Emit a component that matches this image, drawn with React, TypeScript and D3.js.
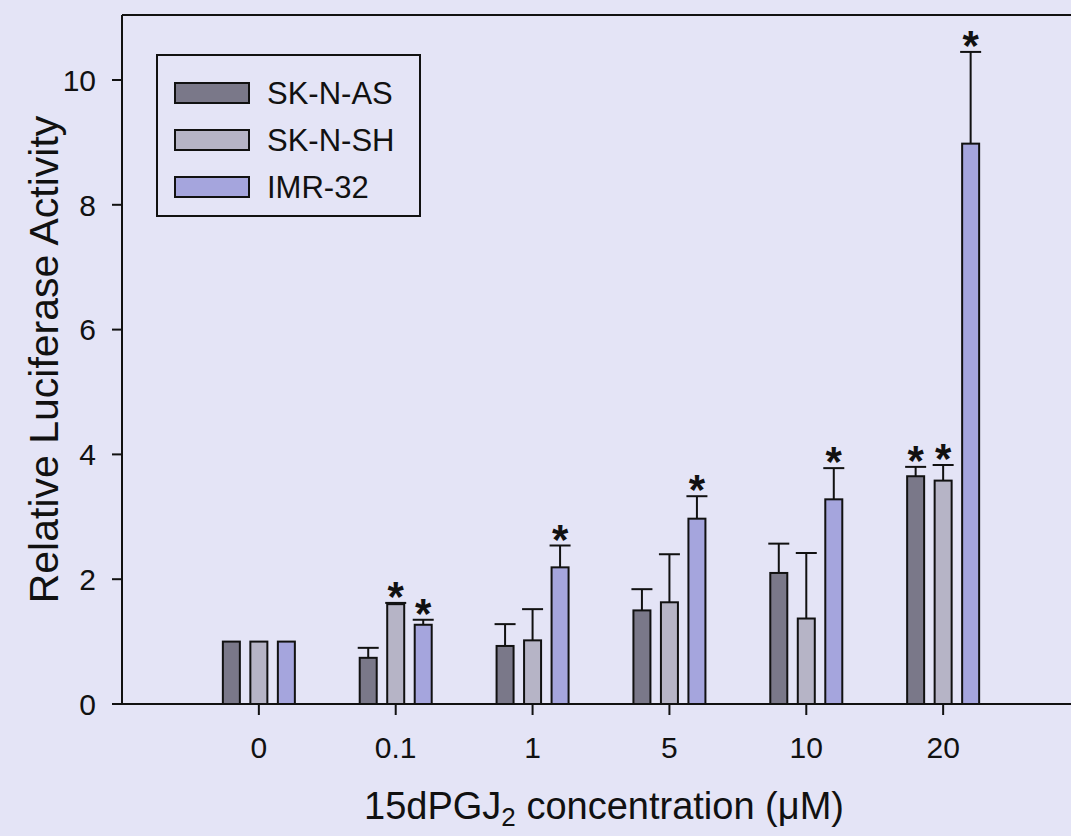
import React, { useEffect, useRef } from 'react'
import * as d3 from 'd3'

// concentrations of 15dPGJ2 (uM)
const categories = ['0', '0.1', '1', '5', '10', '20']
const seriesNames = ['SK-N-AS', 'SK-N-SH', 'IMR-32']

const skNAS = [1, 0.74, 0.93, 1.5, 2.1, 3.65]
const skNASErr = [0, 0.16, 0.35, 0.34, 0.47, 0.15]
const skNSH = [1, 1.6, 1.02, 1.63, 1.37, 3.58]
const skNSHErr = [0, 0.02, 0.5, 0.77, 1.05, 0.25]
const imr32 = [1, 1.27, 2.19, 2.97, 3.28, 8.98]
const imr32Err = [0, 0.08, 0.35, 0.36, 0.5, 1.47]

// significance markers (per series, per category)
const skNASSig = [false, false, false, false, false, true]
const skNSHSig = [false, true, false, false, false, true]
const imr32Sig = [false, true, true, true, true, true]

const yTicks = [0, 2, 4, 6, 8, 10]

const colors = ['#7a7889', '#b6b4c6', '#a5a5dd']
const bg = '#e4e4f6'
const font = '"Liberation Sans", Arial, Helvetica, sans-serif'

const W = 1071
const H = 836

export default function App() {
    const ref = useRef<SVGSVGElement>(null)

    useEffect(() => {
        const svg = d3.select(ref.current)
        svg.selectAll('*').remove()

        const left = 122, top = 15, bottom = 704, right = W

        svg.append('rect').attr('width', W).attr('height', H).attr('fill', bg)

        const y = d3.scaleLinear().domain([0, 10]).range([bottom, 80])
        const x = d3.scalePoint().domain(categories).range([left, 1080]).padding(1)
        const xSub = d3.scaleBand().domain(seriesNames).range([-41.25, 41.25])
        const barW = 17
        const capW = 21

        const values = [skNAS, skNSH, imr32]
        const errs = [skNASErr, skNSHErr, imr32Err]
        const sigs = [skNASSig, skNSHSig, imr32Sig]

        const rows = seriesNames.flatMap((s, si) => categories.map((c, ci) => ({
            s, si, c, v: values[si][ci], e: errs[si][ci], sig: sigs[si][ci]
        })))
        const cx = (d: any) => (x(d.c) as number) + (xSub(d.s) as number) + xSub.bandwidth() / 2

        // frame
        svg.append('line').attr('x1', left).attr('x2', right).attr('y1', top).attr('y2', top)
            .attr('stroke', '#111').attr('stroke-width', 2)
        svg.append('line').attr('x1', left).attr('x2', left).attr('y1', top).attr('y2', bottom)
            .attr('stroke', '#111').attr('stroke-width', 2)

        // error bars (up only)
        const eb = svg.append('g').attr('stroke', '#111').attr('stroke-width', 2)
        rows.filter(d => d.e > 0).forEach(d => {
            eb.append('line').attr('x1', cx(d)).attr('x2', cx(d)).attr('y1', y(d.v)).attr('y2', y(d.v + d.e))
            eb.append('line').attr('x1', cx(d) - capW / 2).attr('x2', cx(d) + capW / 2)
                .attr('y1', y(d.v + d.e)).attr('y2', y(d.v + d.e))
        })

        // bars
        svg.append('g').selectAll('rect').data(rows).join('rect')
            .attr('x', d => cx(d) - barW / 2)
            .attr('y', d => y(d.v))
            .attr('width', barW)
            .attr('height', d => y(0) - y(d.v))
            .attr('fill', d => colors[d.si])
            .attr('stroke', '#111')
            .attr('stroke-width', 2)

        // stars
        svg.append('g').selectAll('text').data(rows.filter(d => d.sig)).join('text')
            .attr('x', d => cx(d))
            .attr('y', d => y(d.v + d.e) + 8)
            .attr('text-anchor', 'middle')
            .attr('font-family', font)
            .attr('font-weight', 'bold')
            .attr('font-size', 42)
            .attr('fill', '#111')
            .text('*')

        // x axis
        svg.append('line').attr('x1', left).attr('x2', right).attr('y1', bottom).attr('y2', bottom)
            .attr('stroke', '#111').attr('stroke-width', 2)
        const xt = svg.append('g')
        categories.forEach(c => {
            xt.append('line').attr('x1', x(c)!).attr('x2', x(c)!).attr('y1', bottom).attr('y2', bottom + 11)
                .attr('stroke', '#111').attr('stroke-width', 2)
            xt.append('text').attr('x', x(c)!).attr('y', 758).attr('text-anchor', 'middle')
                .attr('font-family', font).attr('font-size', 30).attr('fill', '#111').text(c)
        })

        // y axis
        const yt = svg.append('g')
        yTicks.forEach(t => {
            yt.append('line').attr('x1', left - 10).attr('x2', left).attr('y1', y(t)).attr('y2', y(t))
                .attr('stroke', '#111').attr('stroke-width', 2)
            yt.append('text').attr('x', left - 26).attr('y', y(t)).attr('dy', '0.36em').attr('text-anchor', 'end')
                .attr('font-family', font).attr('font-size', 30).attr('fill', '#111').text(t)
        })

        // axis titles
        svg.append('text')
            .attr('transform', `translate(58,${(top + bottom) / 2}) rotate(-90)`)
            .attr('text-anchor', 'middle')
            .attr('font-family', font).attr('font-size', 41).attr('fill', '#111')
            .text('Relative Luciferase Activity')

        const xt2 = svg.append('text')
            .attr('x', 604).attr('y', 819)
            .attr('text-anchor', 'middle')
            .attr('font-family', font).attr('font-size', 38).attr('fill', '#111')
        xt2.append('tspan').text('15dPGJ')
        xt2.append('tspan').attr('font-size', 26).attr('dy', 7).text('2')
        xt2.append('tspan').attr('dy', -7).text(' concentration (\u03bcM)')

        // legend
        const lg = svg.append('g')
        lg.append('rect').attr('x', 157).attr('y', 55).attr('width', 263).attr('height', 161)
            .attr('fill', bg).attr('stroke', '#111').attr('stroke-width', 2)
        seriesNames.forEach((s, i) => {
            const ly = 83 + i * 47
            lg.append('rect').attr('x', 175).attr('y', ly).attr('width', 74).attr('height', 20)
                .attr('fill', colors[i]).attr('stroke', '#111').attr('stroke-width', 2)
            lg.append('text').attr('x', 267).attr('y', ly + 10).attr('dy', '0.36em')
                .attr('font-family', font).attr('font-size', 31).attr('fill', '#111').text(s)
        })
    }, [])

    return (
        <svg ref={ref} width={W} height={H} style={{ position: 'absolute', left: 0, top: 0 }} />
    )
}
